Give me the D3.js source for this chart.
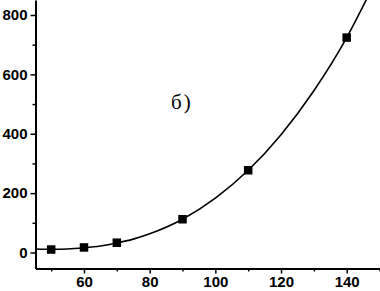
<!DOCTYPE html>
<html><head><meta charset="utf-8">
<script src="https://cdn.jsdelivr.net/npm/d3@7"></script>
<style>
html,body{margin:0;padding:0;background:#fff;}
svg{display:block;}
.tick text{font-family:"Liberation Sans",Arial,sans-serif;font-weight:bold;font-size:15px;fill:#000;}
</style></head>
<body>
<script>
// Measured points
const pointX = [50, 60, 70, 90, 110, 140];
const pointY = [10, 17, 33, 112, 277, 724];
// Fitted curve
const curveX = [45.5, 50, 55, 60, 65, 70, 75, 80, 90, 100, 110, 120, 130, 140, 146];
const curveY = [12, 11, 12, 16, 22, 32, 45, 63, 112, 183, 277, 397, 545, 724, 852];
const xTicks = [60, 80, 100, 120, 140];
const xMinor = [50, 70, 90, 110, 130, 150];
const yTicks = [0, 200, 400, 600, 800];
const yMinor = [100, 300, 500, 700];
const label = "б)";

(function () {
const W = 380, H = 291;
const svg = d3.select("body").append("svg").attr("width", W).attr("height", H);

const pLeft = 35.5, pRight = 380, pTop = 0, pBottom = 268.5;
const x0 = d3.scaleLinear().domain([60, 140]).range([84, 346.7]);
const x = d3.scaleLinear().domain([x0.invert(pLeft), x0.invert(pRight)]).range([pLeft, pRight]);
const y0 = d3.scaleLinear().domain([0, 800]).range([252.5, 15]);
const y = d3.scaleLinear().domain([y0.invert(pBottom), y0.invert(pTop)]).range([pBottom, pTop]);

svg.append("defs").append("clipPath").attr("id", "clip")
  .append("rect").attr("x", pLeft).attr("y", pTop).attr("width", pRight - pLeft).attr("height", pBottom - pTop);

// minor ticks
svg.append("g").attr("transform", `translate(0,${pBottom})`)
  .call(d3.axisBottom(x).tickValues(xMinor).tickSize(3).tickFormat(""))
  .call(g => g.select(".domain").remove())
  .selectAll("line").attr("stroke", "#000").attr("stroke-width", 1.5);
svg.append("g").attr("transform", `translate(${pLeft},0)`)
  .call(d3.axisLeft(y).tickValues(yMinor).tickSize(3).tickFormat(""))
  .call(g => g.select(".domain").remove())
  .selectAll("line").attr("stroke", "#000").attr("stroke-width", 1.5);

// major axes
const gx = svg.append("g").attr("transform", `translate(0,${pBottom})`)
  .call(d3.axisBottom(x).tickValues(xTicks).tickSize(5).tickPadding(3).tickSizeOuter(0));
gx.select(".domain").attr("stroke", "#000").attr("stroke-width", 2);
gx.selectAll(".tick line").attr("stroke", "#000").attr("stroke-width", 1.5);

const gy = svg.append("g").attr("transform", `translate(${pLeft},0)`)
  .call(d3.axisLeft(y).tickValues(yTicks).tickSize(5).tickPadding(3).tickSizeOuter(0));
gy.select(".domain").attr("stroke", "#000").attr("stroke-width", 2);
gy.selectAll(".tick line").attr("stroke", "#000").attr("stroke-width", 1.5);

// curve
const curveData = curveX.map((v, i) => [v, curveY[i]]);
svg.append("path").datum(curveData)
  .attr("clip-path", "url(#clip)")
  .attr("fill", "none").attr("stroke", "#000").attr("stroke-width", 1.6)
  .attr("d", d3.line().x(d => x(d[0])).y(d => y(d[1])).curve(d3.curveMonotoneX));

// points
const s = 8.5;
svg.append("g").selectAll("rect").data(pointX.map((v, i) => [v, pointY[i]])).join("rect")
  .attr("x", d => x(d[0]) - s / 2).attr("y", d => y(d[1]) - s / 2)
  .attr("width", s).attr("height", s).attr("fill", "#000");

// label
svg.append("text").attr("x", 171).attr("y", 109)
  .attr("font-family", "'Liberation Serif','Times New Roman',serif")
  .attr("font-size", 21).attr("letter-spacing", 2).attr("fill", "#000")
  .text(label);
})();
</script>
</body></html>
